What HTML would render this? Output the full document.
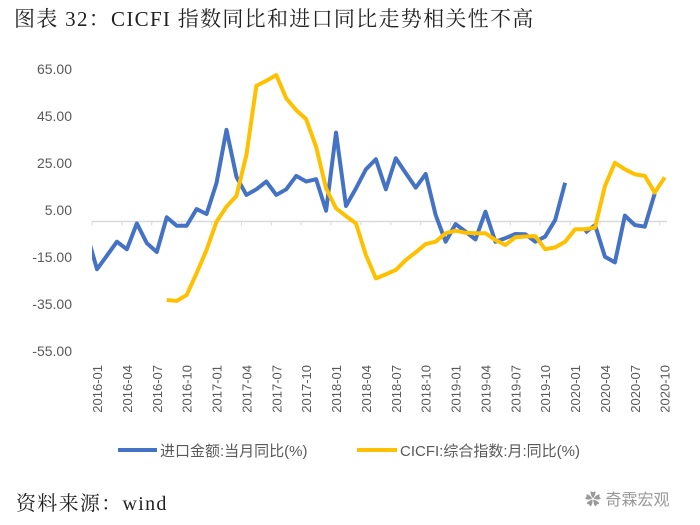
<!DOCTYPE html>
<html><head><meta charset="utf-8"><style>
body{margin:0;background:#fff;width:700px;height:525px;overflow:hidden;position:relative;font-family:"Liberation Sans","Noto Sans CJK SC",sans-serif}
#title{position:absolute;left:14px;top:3px;font-family:"Liberation Serif","Noto Serif CJK SC",serif;font-size:21px;letter-spacing:1.3px;color:#222;white-space:nowrap}
#src{position:absolute;left:16px;top:487px;font-family:"Liberation Serif","Noto Serif CJK SC",serif;font-size:20px;letter-spacing:1.3px;color:#222}
#wm{position:absolute;left:585px;top:486px;font-size:16px;color:#999}
svg{position:absolute;left:0;top:0}
</style></head><body>
<div id="title">图表 32：CICFI 指数同比和进口同比走势相关性不高</div>
<svg id="chart" width="700" height="525">
<defs><clipPath id="pc"><rect x="92" y="40" width="580" height="330"/></clipPath></defs>
</svg>
<div id="src">资料来源：wind</div>
<div id="wm">✿ 奇霖宏观</div>
<script>
const categories=[];for(let y=2016;y<=2020;y++)for(let m=1;m<=12;m++){if(y===2020&&m>10)break;categories.push(y+'-'+String(m).padStart(2,'0'));}
const yTicks=[65,45,25,5,-15,-35,-55];
const importPrev=-5.5;
const importYoY=[-20.3,-14.5,-8.6,-11.8,-0.8,-9.2,-13,1.8,-1.8,-1.8,5.3,3.2,16.4,39,19,11.3,13.7,17,11.3,13.7,19.4,17,18,4.6,37.8,6.6,14.1,22.2,26.5,13.7,26.9,20.6,14.4,20.2,2.8,-8.6,-1.1,-4.3,-7.6,4.2,-8.6,-7.1,-5.3,-5.4,-8.6,-6.4,0.6,16.5,null,-4.8,-1.5,-15,-17.4,2.5,-1.5,-2.2,12,null];
const cicfiYoY=[null,null,null,null,null,null,null,-33.4,-33.8,-31.3,-22,-12.1,-0.1,6.3,10.9,28.3,57.7,59.9,62.3,52.4,47.4,43.5,31.8,14.1,5.6,2.3,-0.8,-14.3,-24.2,-22.5,-20.6,-16.4,-13.1,-9.6,-8.6,-5,-3.9,-4.8,-5,-5,-7.9,-10,-6.7,-6.4,-6.2,-11.8,-11,-8.6,-3.3,-3.3,-2.6,15.1,25,22.2,20.1,19.4,12.3,18.8];
const NS='http://www.w3.org/2000/svg';
const svg=document.getElementById('chart');
const X=i=>97+i*9.96;
const Y=v=>221.5-v*2.35;
function mk(t,a){const e=document.createElementNS(NS,t);for(const k in a)e.setAttribute(k,a[k]);svg.appendChild(e);return e;}
yTicks.forEach(v=>{const t=mk('text',{x:72,y:Y(v)+5,'text-anchor':'end','font-size':14,fill:'#595959'});t.textContent=v.toFixed(2);

});
const ax=mk('line',{x1:92,x2:667,y1:Y(0),y2:Y(0),stroke:'#d9d9d9','stroke-width':1.5});


categories.forEach((c,i)=>{if(i%3)return;const x=X(i)-5;
const tk=mk('line',{x1:x,x2:x,y1:Y(0),y2:Y(0)+4,stroke:'#d9d9d9'});


const t=mk('text',{x:0,y:0,'font-size':13,fill:'#595959','text-anchor':'end',transform:`translate(${X(i)+5},365) rotate(-90)`});t.textContent=c;

});
function path(vals,prev){let d='',pen=false;if(prev!=null){d+=`M${X(-1)},${Y(prev)}`;pen=true;}
vals.forEach((v,i)=>{if(v==null){pen=false;return;}d+=(pen?'L':'M')+X(i)+','+Y(v);pen=true;});return d;}
const pb=mk('path',{d:path(importYoY,importPrev),fill:'none',stroke:'#4472C4','stroke-width':4,'stroke-linejoin':'round','clip-path':'url(#pc)'});


const py=mk('path',{d:path(cicfiYoY),fill:'none',stroke:'#FFC000','stroke-width':4,'stroke-linejoin':'round','clip-path':'url(#pc)'});


const l1=mk('line',{x1:118,x2:157,y1:450,y2:450,stroke:'#4472C4','stroke-width':4});


const t1=mk('text',{x:160,y:456,'font-size':15,fill:'#595959'});t1.textContent='进口金额:当月同比(%)';


const l2=mk('line',{x1:357,x2:397,y1:450,y2:450,stroke:'#FFC000','stroke-width':4});


const t2=mk('text',{x:400,y:456,'font-size':15,fill:'#595959'});t2.textContent='CICFI:综合指数:月:同比(%)';


</script>
</body></html>
